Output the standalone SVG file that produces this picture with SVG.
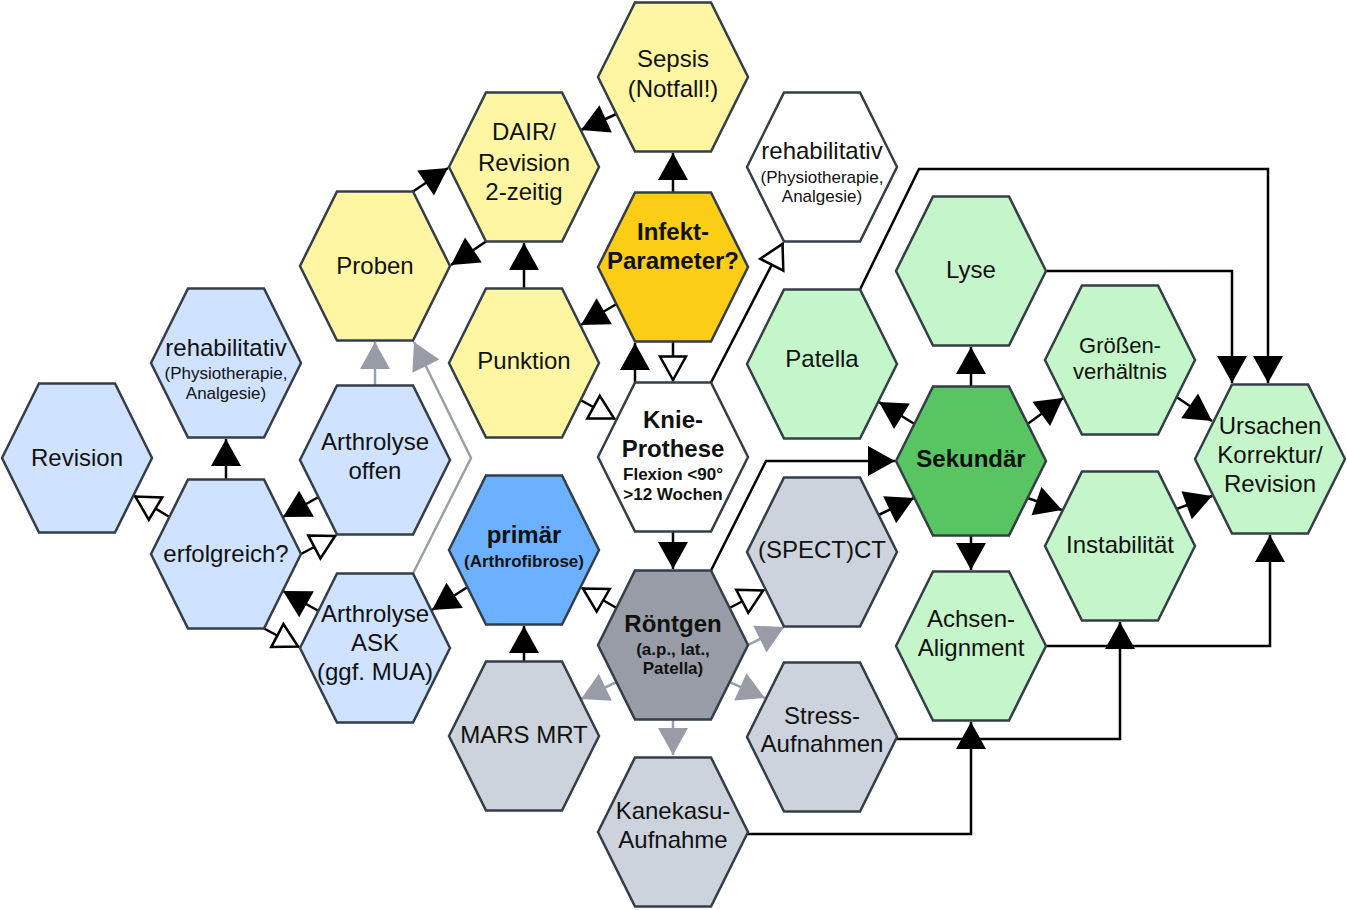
<svg xmlns="http://www.w3.org/2000/svg" xmlns:xlink="http://www.w3.org/1999/xlink" width="1347" height="910" viewBox="0 0 1347 910">
<style>
.hx{stroke:#343e48;stroke-width:2.5}
.blue{fill:#cfe2ff}.pblue{fill:#6cb1ff}
.yel{fill:#fff6a4}.gold{fill:#fbcd17}
.wht{fill:#ffffff}
.gry{fill:#cdd3dc}.dgry{fill:#979ca6}
.grn{fill:#c4f6ca}.dgrn{fill:#58c562}
text{font-family:"Liberation Sans",Arial,sans-serif;fill:#111;text-anchor:middle}
.t{font-size:24px}.s{font-size:17px}.m{font-size:22px}
.b{font-weight:bold}
.c{fill:none;stroke:#000;stroke-width:2.5}
.ab{marker-end:url(#ab)}.ah{marker-end:url(#ah)}
.g{fill:none;stroke:#9ba0a8;stroke-width:2.5;marker-end:url(#ag)}
</style>
<defs>
<path id="hex" d="M-75,0 L-38,-74.5 L38,-74.5 L75,0 L38,74.5 L-38,74.5 Z"/>
<marker id="ab" markerUnits="userSpaceOnUse" markerWidth="30" markerHeight="32" refX="27" refY="15" orient="auto" overflow="visible"><path d="M0,0 L27,15 L0,30 z" fill="#000"/></marker>
<marker id="ah" markerUnits="userSpaceOnUse" markerWidth="30" markerHeight="32" refX="26" refY="15" orient="auto" overflow="visible"><path d="M1.5,2 L25,15 L1.5,28 z" fill="#fff" stroke="#000" stroke-width="2.5" stroke-linejoin="miter"/></marker>
<marker id="ag" markerUnits="userSpaceOnUse" markerWidth="30" markerHeight="32" refX="27" refY="15" orient="auto" overflow="visible"><path d="M0,0 L27,15 L0,30 z" fill="#979ca6"/></marker>
</defs>

<g id="connectors">
<line class="c ab" x1="616.5" y1="114" x2="581" y2="130"/>
<line class="c ab" x1="673" y1="192.5" x2="673" y2="153"/>
<line class="c ab" x1="413" y1="191.5" x2="448" y2="168"/>
<line class="c ab" x1="486" y1="241.5" x2="451" y2="265"/>
<line class="c ab" x1="524" y1="288.5" x2="524" y2="243"/>
<line class="c ab" x1="616.5" y1="304" x2="581" y2="325"/>
<line class="c ab" x1="635" y1="382.5" x2="635" y2="343"/>
<line class="c ah" x1="673" y1="341.5" x2="673" y2="381"/>
<line class="c ah" x1="711" y1="382.5" x2="783" y2="243"/>
<line class="c ah" x1="580.5" y1="400" x2="615" y2="419"/>
<line class="c ab" x1="673" y1="531.5" x2="673" y2="569"/>
<line class="c ah" x1="616.5" y1="608" x2="582" y2="588"/>
<line class="c ah" x1="729.5" y1="608" x2="764" y2="590"/>
<line class="g" x1="748" y1="645" x2="784" y2="627"/>
<line class="g" x1="616.5" y1="682" x2="581" y2="699"/>
<line class="g" x1="729.5" y1="682" x2="765" y2="698"/>
<line class="g" x1="673" y1="719.5" x2="673" y2="755"/>
<line class="c ab" x1="524" y1="661.5" x2="524" y2="626"/>
<line class="c ab" x1="467.5" y1="587" x2="432" y2="610"/>
<line class="c ab" x1="318.5" y1="611" x2="283" y2="591"/>
<line class="c ah" x1="264" y1="628.5" x2="299" y2="647"/>
<line class="c ah" x1="301" y1="554" x2="336" y2="535.5"/>
<line class="c ab" x1="318.5" y1="497" x2="283" y2="517"/>
<line class="c ab" x1="226" y1="479.5" x2="226" y2="439"/>
<line class="c ah" x1="169.5" y1="517" x2="134.5" y2="496"/>
<line class="g" x1="375" y1="385.5" x2="375" y2="342"/>
<polyline class="g" points="413,573.5 471,458 414,342"/>
<polyline class="c ab" points="711,570.5 766,461 895,461"/>
<line class="c ab" x1="878.5" y1="515" x2="914" y2="498"/>
<line class="c ab" x1="914.5" y1="424" x2="879" y2="402"/>
<line class="c ab" x1="971" y1="386.5" x2="971" y2="347"/>
<line class="c ab" x1="1027.5" y1="424" x2="1063" y2="398"/>
<line class="c ab" x1="1027.5" y1="498" x2="1062" y2="510"/>
<line class="c ab" x1="971" y1="535.5" x2="971" y2="570"/>
<line class="c ab" x1="1176.5" y1="397" x2="1212" y2="421"/>
<line class="c ab" x1="1176.5" y1="509" x2="1212" y2="496"/>
<polyline class="c ab" points="1046,271 1232,271 1232,383"/>
<polyline class="c ab" points="860,289.5 919,169 1268,169 1268,383"/>
<polyline class="c ab" points="1046,646 1270,646 1270,535"/>
<polyline class="c ab" points="897,739 1120,739 1120,622"/>
<polyline class="c ab" points="748,834 971,834 971,722"/>
</g>

<g id="n-revision"><use href="#hex" x="77" y="458" class="hx blue"/><text class="t" x="77" y="466">Revision</text></g>
<g id="n-rehab-left"><use href="#hex" x="226" y="363" class="hx blue"/><text class="t" x="226" y="356">rehabilitativ</text><text class="s" x="226" y="379">(Physiotherapie,</text><text class="s" x="226" y="399">Analgesie)</text></g>
<g id="n-erfolgreich"><use href="#hex" x="226" y="554" class="hx blue"/><text class="t" x="226" y="562">erfolgreich?</text></g>
<g id="n-proben"><use href="#hex" x="375" y="266" class="hx yel"/><text class="t" x="375" y="274">Proben</text></g>
<g id="n-arthrolyse-offen"><use href="#hex" x="375" y="460" class="hx blue"/><text class="t" x="375" y="450">Arthrolyse</text><text class="t" x="375" y="479">offen</text></g>
<g id="n-arthrolyse-ask"><use href="#hex" x="375" y="648" class="hx blue"/><text class="t" x="375" y="622">Arthrolyse</text><text class="t" x="375" y="651">ASK</text><text class="t" x="375" y="680">(ggf. MUA)</text></g>
<g id="n-dair"><use href="#hex" x="524" y="167" class="hx yel"/><text class="t" x="524" y="140">DAIR/</text><text class="t" x="524" y="171">Revision</text><text class="t" x="524" y="200">2-zeitig</text></g>
<g id="n-punktion"><use href="#hex" x="524" y="363" class="hx yel"/><text class="t" x="524" y="369">Punktion</text></g>
<g id="n-primaer"><use href="#hex" x="524" y="550" class="hx pblue"/><text class="t b" x="524" y="543">primär</text><text class="s b" x="524" y="567">(Arthrofibrose)</text></g>
<g id="n-mars"><use href="#hex" x="524" y="736" class="hx gry"/><text class="t" x="524" y="743">MARS MRT</text></g>
<g id="n-sepsis"><use href="#hex" x="673" y="77" class="hx yel"/><text class="t" x="673" y="67">Sepsis</text><text class="t" x="673" y="97">(Notfall!)</text></g>
<g id="n-infekt"><use href="#hex" x="673" y="267" class="hx gold"/><text class="t b" x="673" y="240">Infekt-</text><text class="t b" x="673" y="269">Parameter?</text></g>
<g id="n-knie"><use href="#hex" x="673" y="457" class="hx wht"/><text class="t b" x="673" y="428">Knie-</text><text class="t b" x="673" y="457">Prothese</text><text class="s b" x="673" y="480">Flexion &lt;90°</text><text class="s b" x="673" y="500">&gt;12 Wochen</text></g>
<g id="n-roentgen"><use href="#hex" x="673" y="645" class="hx dgry"/><text class="t b" x="673" y="632">Röntgen</text><text class="s b" x="673" y="655">(a.p., lat.,</text><text class="s b" x="673" y="674">Patella)</text></g>
<g id="n-kanekasu"><use href="#hex" x="673" y="832" class="hx gry"/><text class="t" x="673" y="819">Kanekasu-</text><text class="t" x="673" y="848">Aufnahme</text></g>
<g id="n-rehab-right"><use href="#hex" x="822" y="167" class="hx wht"/><text class="t" x="822" y="159">rehabilitativ</text><text class="s" x="822" y="183">(Physiotherapie,</text><text class="s" x="822" y="202">Analgesie)</text></g>
<g id="n-patella"><use href="#hex" x="822" y="364" class="hx grn"/><text class="t" x="822" y="367">Patella</text></g>
<g id="n-spect"><use href="#hex" x="822" y="552" class="hx gry"/><text class="t" x="822" y="558">(SPECT)CT</text></g>
<g id="n-stress"><use href="#hex" x="822" y="737" class="hx gry"/><text class="t" x="822" y="724">Stress-</text><text class="t" x="822" y="752">Aufnahmen</text></g>
<g id="n-lyse"><use href="#hex" x="971" y="271" class="hx grn"/><text class="t" x="971" y="278">Lyse</text></g>
<g id="n-sekundaer"><use href="#hex" x="971" y="461" class="hx dgrn"/><text class="t b" x="971" y="467">Sekundär</text></g>
<g id="n-achsen"><use href="#hex" x="971" y="646" class="hx grn"/><text class="t" x="971" y="627">Achsen-</text><text class="t" x="971" y="656">Alignment</text></g>
<g id="n-groessen"><use href="#hex" x="1120" y="360" class="hx grn"/><text class="m" x="1120" y="353">Größen-</text><text class="m" x="1120" y="379">verhältnis</text></g>
<g id="n-instabilitaet"><use href="#hex" x="1120" y="546" class="hx grn"/><text class="t" x="1120" y="553">Instabilität</text></g>
<g id="n-ursachen"><use href="#hex" x="1270" y="459" class="hx grn"/><text class="t" x="1270" y="434">Ursachen</text><text class="t" x="1270" y="463">Korrektur/</text><text class="t" x="1270" y="492">Revision</text></g>
</svg>
